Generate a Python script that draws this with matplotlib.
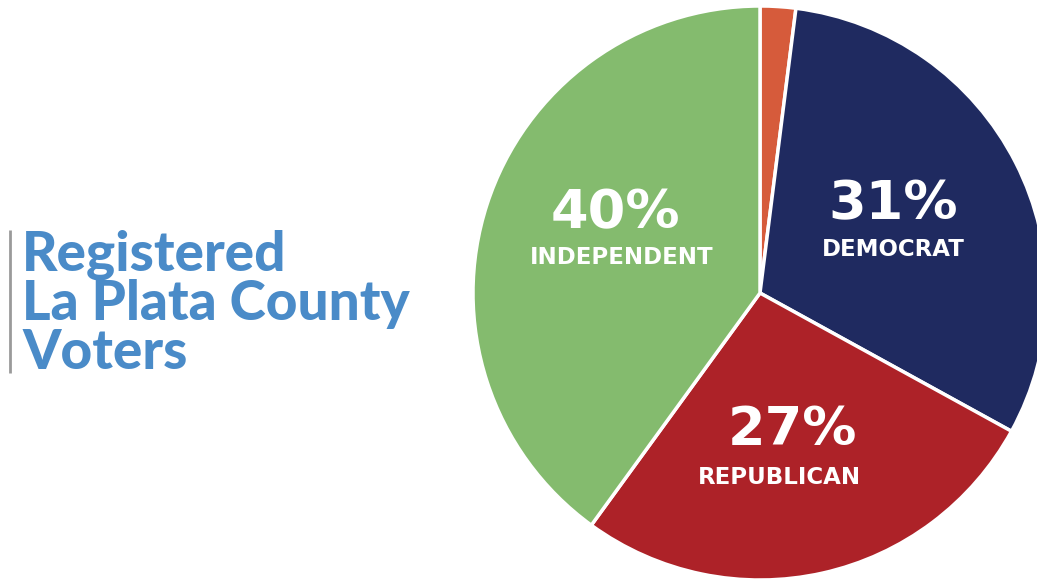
import matplotlib.pyplot as plt

# Registered voters by party (percent)
parties = ['Other', 'Democrat', 'Republican', 'Independent']
shares = [2, 31, 27, 40]
colors = ['#D65B3B', '#1F2A60', '#AD2228', '#84BB6E']
labels = ['', '31%', '27%', '40%']
names = ['', 'DEMOCRAT', 'REPUBLICAN', 'INDEPENDENT']
# label positions in pixels (x, y from top)
label_pos = [None, (893, 204), (793, 430), (615, 213)]
name_pos = [None, (893, 250), (779, 478), (622, 258)]

W, H = 1037, 581
fig = plt.figure(figsize=(W / 100, H / 100), dpi=100)
ax = fig.add_axes([0, 0, 1, 1])

ax.pie(shares, colors=colors, startangle=90, counterclock=False,
       center=(760, H - 293), radius=287,
       wedgeprops=dict(edgecolor='white', linewidth=2.5))
ax.set_xlim(0, W)
ax.set_ylim(0, H)
ax.set_aspect('equal')
ax.set_axis_off()

font = 'DejaVu Sans'
for lab, nm, lp, np_ in zip(labels, names, label_pos, name_pos):
    if not lab:
        continue
    ax.text(lp[0], H - lp[1], lab, color='white', fontsize=39,
            fontweight='bold', family=font, ha='center', va='center')
    ax.text(np_[0], H - np_[1], nm, color='white', fontsize=16.5,
            fontweight='bold', family=font, ha='center', va='center')

# title block with grey bar
title_lines = ['Registered', 'La Plata County', 'Voters']
baselines = [271, 320, 369]
for line, yb in zip(title_lines, baselines):
    ax.text(22, H - yb, line, color='#4A8BC8', fontsize=39.5,
            fontweight='black', family='Lato', ha='left', va='baseline')
ax.plot([10, 10], [H - 230, H - 373], color='#9A9A9A', linewidth=2,
        solid_capstyle='butt')

fig.savefig('out.png', dpi=100, facecolor='white')
